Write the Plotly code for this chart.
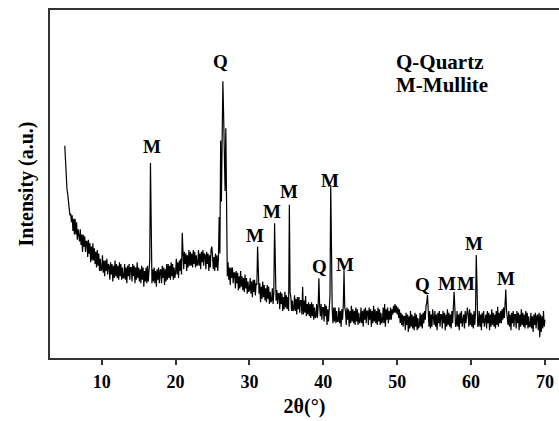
import numpy as np
import plotly.graph_objects as go

# 2-theta scan: 5.0 .. 70.0 deg, 0.1 deg step; intensities (a.u., 0-100) read row by row per degree
two_theta_start = 5.0
two_theta_step = 0.1
rows = [
    [61, 56, 52.5, 48.5, 47, 44, 44, 41, 41.5, 39],                      # 5
    [41, 36.5, 40, 35.5, 40, 35.5, 39, 34, 37, 34],                      # 6
    [33.5, 37, 32.5, 35.5, 30.5, 35.5, 32, 35, 30.5, 33.5],              # 7
    [33.5, 29, 34, 30, 33, 27.5, 32, 28, 33, 28],                        # 8
    [31.5, 27, 30.5, 26, 31, 26.5, 30, 25, 28.5, 25],                    # 9
    [25.5, 29.5, 24.5, 28, 23.5, 28, 25, 28.5, 24, 27],                  # 10
    [26.5, 22.5, 27.5, 24, 27, 22, 26.5, 23, 28, 23.5],                  # 11
    [27, 23, 26.5, 22.5, 27.5, 23.5, 27, 22.5, 26, 23],                  # 12
    [23, 27, 22.5, 26, 21.5, 26.5, 23.5, 27, 22.5, 26],                  # 13
    [26, 22, 27, 23.5, 26.5, 21.5, 26, 22.5, 27.5, 23],                  # 14
    [26, 22, 25.5, 21.5, 26.5, 22.5, 26, 20.5, 25, 22],                  # 15
    [26, 21.5, 26.5, 22, 25.5, 28, 56, 27, 21.5, 25.5],                  # 16
    [22, 26, 21.5, 25, 20.5, 25.5, 22.5, 26, 21.5, 25],                  # 17
    [25.5, 21.5, 26.5, 23, 26, 21, 25.5, 22, 27, 22.5],                  # 18
    [27, 23, 26.5, 22.5, 27.5, 23.5, 27, 22.5, 26, 23],                  # 19
    [24.5, 28.5, 24, 27.5, 23, 28, 25, 28.5, 24, 36],                    # 20
    [29.5, 25.5, 30.5, 27, 30, 25, 29.5, 26, 31, 26.5],                  # 21
    [30.5, 26.5, 30, 26, 31, 27, 30.5, 26, 29.5, 26.5],                  # 22
    [27, 31, 26.5, 30, 25.5, 30.5, 27.5, 31, 26.5, 30],                  # 23
    [29.5, 25.5, 30.5, 27, 30, 25, 29.5, 26, 31, 32],                    # 24
    [29.5, 25.5, 29, 25, 30, 26, 29.5, 25, 28.5, 40.5],                  # 25
    [30, 62.5, 45, 58, 79.5, 70, 52, 48, 66, 34],                        # 26
    [23.5, 27.5, 22.5, 26, 21, 26, 23, 26, 21.5, 24.5],                  # 27
    [24.5, 20, 25, 21.5, 24.5, 19.5, 23.5, 20, 25, 20.5],                # 28
    [23.5, 19.5, 23, 19, 24, 20, 23, 18.5, 22, 19],                      # 29
    [19.5, 23, 18.5, 22, 17.5, 22.5, 19, 22.5, 18, 21.5],                # 30
    [21, 32, 22, 18.5, 21.5, 16, 20.5, 17, 22, 17.5],                    # 31
    [21, 16.5, 20, 16, 21, 17, 20.5, 15.5, 19, 16],                      # 32
    [16.5, 20, 15.5, 19, 38.7, 19.5, 16.5, 19.5, 15.5, 18.5],            # 33
    [18.5, 14, 19, 15.5, 18.5, 13.5, 17.5, 14, 19, 14.5],                # 34
    [18, 14, 17.5, 13.5, 44, 19, 17.5, 13.5, 16.5, 13.5],                # 35
    [14, 18, 13.5, 17, 12.5, 17.5, 14, 17.5, 13, 16.5],                  # 36
    [16.5, 12.5, 20.5, 12.5, 16.5, 13, 17.8, 12, 15.5, 12.5],            # 37
    [16, 12, 15.5, 11.5, 16, 12, 15.5, 11, 14.5, 11.5],                  # 38
    [12, 15.5, 11.5, 15, 22.9, 15, 12, 15.5, 11, 14.5],                  # 39
    [14.5, 10.5, 15.5, 12, 15, 9.5, 14, 10.5, 15.5, 18],                 # 40
    [49.7, 24, 14, 10, 14.5, 10.5, 14.5, 10, 13.5, 10.5],                # 41
    [10.5, 14.5, 10, 13.5, 9, 14, 11, 15, 25, 14.5],                     # 42
    [13.5, 9.5, 14.5, 11, 14, 9, 13.5, 10, 15, 10.5],                    # 43
    [14, 10, 13.5, 9.5, 14.5, 10.5, 14, 9.5, 13, 10],                    # 44
    [10.5, 14.5, 10, 13.5, 9, 14, 11, 14.5, 10, 13.5],                   # 45
    [13.5, 9.5, 14.5, 11, 14, 9, 13.5, 10, 15, 10.5],                    # 46
    [14, 10, 13.5, 9.5, 14.5, 10.5, 14, 9.5, 13, 10],                    # 47
    [10.5, 14.5, 10, 15.5, 9, 14, 11, 14.5, 10, 13.5],                   # 48
    [11, 14.5, 11, 14, 12.5, 15, 13, 15.5, 13, 15],                      # 49
    [12.5, 14.5, 11.5, 14, 10, 13, 9.5, 12.5, 9, 12],                    # 50
    [12, 8, 13, 9.5, 12.5, 7.5, 12, 8.5, 13.5, 9],                       # 51
    [12.5, 8.5, 12, 8, 13, 9, 12.5, 8, 11.5, 8.5],                       # 52
    [9.5, 13, 9, 12.5, 8.5, 13, 10, 13.5, 11, 15],                       # 53
    [16, 18.1, 13, 9, 13.5, 8.5, 12.5, 9, 14, 9.5],                      # 54
    [9.5, 13.5, 9, 12.5, 8, 13, 10, 13.5, 9, 12.5],                      # 55
    [12.5, 8.5, 13.5, 10, 13, 8, 12.5, 9, 14, 9.5],                      # 56
    [13, 9, 12.5, 8.5, 13.5, 10, 14, 19, 14.5, 9],                       # 57
    [9.5, 13.5, 9, 12.5, 8, 13, 10, 13.5, 9, 12.5],                      # 58
    [12.5, 8.5, 13.5, 10, 13, 14.5, 12.5, 9, 14, 9.5],                   # 59
    [13, 9, 12.5, 8.5, 13.5, 9.5, 13, 29.6, 21, 9],                      # 60
    [9.5, 13.5, 9, 12.5, 8, 13, 10, 13.5, 9, 12.5],                      # 61
    [12.5, 8.5, 13.5, 10, 13, 8, 12.5, 9, 14, 9.5],                      # 62
    [13, 9, 12.5, 8.5, 13.5, 9.5, 14.7, 9, 13, 10],                      # 63
    [13.5, 10, 14, 11, 14.5, 11.5, 15.5, 19.7, 13.5, 9.5],               # 64
    [9.5, 13.5, 9, 12.5, 8, 13, 10, 13.5, 9, 12.5],                      # 65
    [12.5, 8.5, 13.5, 10, 13, 8, 12.5, 9, 14, 9.5],                      # 66
    [13, 9, 12.5, 8.5, 13.5, 9.5, 13, 8.5, 12, 9],                       # 67
    [9, 13, 8.5, 12, 7.5, 12.5, 9.5, 13, 8.5, 12],                       # 68
    [12.5, 8, 13, 6, 12.5, 7.5, 12, 8.5, 13.5, 9],                       # 69
    [11],                                                                # 70
]
intensity = [v for r in rows for v in r]
two_theta = np.round(two_theta_start + two_theta_step * np.arange(len(intensity)), 2)

# Phase labels: (2theta, intensity, text)
label_x = [16.78, 26.1, 30.76, 33.1, 35.3, 40.9, 39.5, 42.9, 53.4, 56.7, 59.3, 60.4, 64.7]
label_y = [60.7, 85.1, 35.3, 42.0, 47.8, 51.1, 26.2, 26.9, 21.0, 21.3, 21.3, 33.0, 22.9]
label_t = ["M", "Q", "M", "M", "M", "M", "Q", "M", "Q", "M", "M", "M", "M"]

key_lines = ["Q-Quartz", "M-Mullite"]
key_x = 49.5
key_y = [85.1, 78.4]

x_ticks = [10, 20, 30, 40, 50, 60, 70]

FONT = "Liberation Serif"

fig = go.Figure()
fig.add_trace(go.Scatter(x=two_theta, y=intensity, mode="lines",
                         line=dict(color="black", width=1.2), showlegend=False))

for x, y, t in zip(label_x, label_y, label_t):
    fig.add_annotation(x=x, y=y, text=f"<b>{t}</b>", showarrow=False,
                       xanchor="center", yanchor="middle",
                       font=dict(family=FONT, size=19, color="black"))
for y, t in zip(key_y, key_lines):
    fig.add_annotation(x=key_x, y=y, text=f"<b>{t}</b>", showarrow=False,
                       xanchor="left", yanchor="middle",
                       font=dict(family=FONT, size=21, color="black"))

fig.update_layout(
    width=559, height=421,
    margin=dict(l=50, r=0, t=10, b=63),
    paper_bgcolor="white", plot_bgcolor="white",
    font=dict(family=FONT, color="black"),
    xaxis=dict(range=[3.0, 71.9], tickvals=x_ticks, ticks="outside", ticklen=5,
               tickwidth=1.5, tickcolor="#333", showgrid=False, zeroline=False,
               showline=True, linecolor="#333", linewidth=1.5, mirror=True,
               tickfont=dict(family=FONT, size=18, color="black", weight="bold"),
               ticklabelstandoff=2,
               title=dict(text="<b>2θ(°)</b>", standoff=8,
                          font=dict(family=FONT, size=20, color="black"))),
    yaxis=dict(range=[0, 100], showticklabels=False, ticks="", showgrid=False,
               zeroline=False, showline=True, linecolor="#333", linewidth=2,
               mirror=False,
               title=dict(text="<b>Intensity (a.u.)</b>", standoff=9,
                          font=dict(family=FONT, size=20, color="black"))),
)

fig.write_html("out.html")
